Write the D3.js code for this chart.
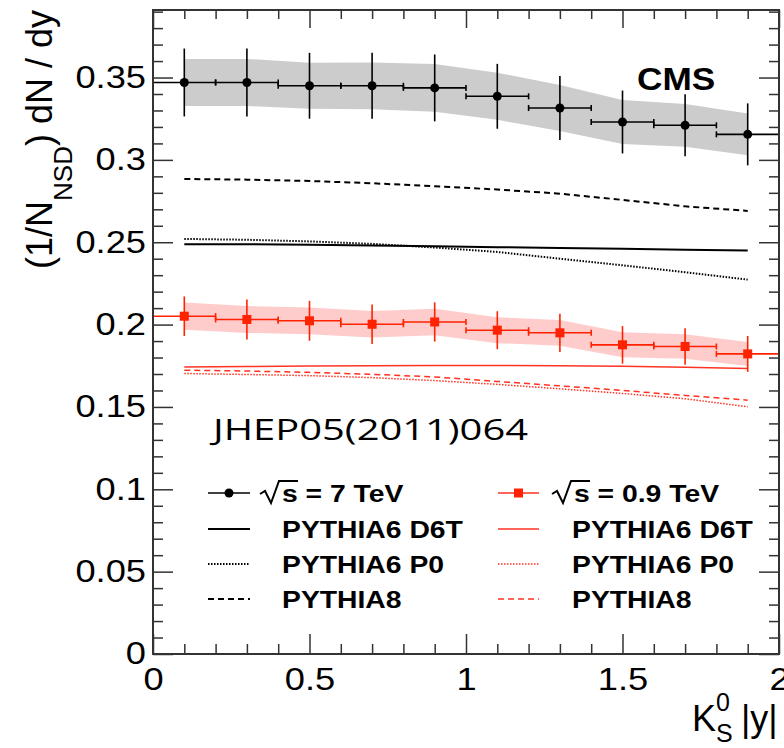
<!DOCTYPE html>
<html>
<head>
<meta charset="utf-8">
<script src="https://cdn.jsdelivr.net/npm/d3@7"></script>
<style>
  body { margin: 0; background: #fff; }
  svg text { font-family: "Liberation Sans", Arial, Helvetica, sans-serif; fill: #000; }
</style>
</head>
<body>
<div id="chart"></div>
<script>
// bins in |y| (centre and half width)
const binCenters = [0.1, 0.3, 0.5, 0.7, 0.9, 1.1, 1.3, 1.5, 1.7, 1.9];
const binHalf    = [0.1, 0.1, 0.1, 0.1, 0.1, 0.1, 0.1, 0.1, 0.1, 0.1];

// data sqrt(s) = 7 TeV
const data7    = [0.347, 0.347, 0.345, 0.345, 0.3437, 0.3386, 0.3315, 0.323, 0.321, 0.3155];
const err7     = [0.0206, 0.0206, 0.020, 0.020, 0.0203, 0.0197, 0.0194, 0.0191, 0.0188, 0.0188];
const sys7     = [0.0143, 0.0143, 0.014, 0.0142, 0.0145, 0.0143, 0.014, 0.0133, 0.013, 0.0127];
// data sqrt(s) = 0.9 TeV
const data09   = [0.2051, 0.2031, 0.2023, 0.2002, 0.2016, 0.1966, 0.195, 0.1877, 0.1867, 0.1822];
const err09    = [0.012, 0.0121, 0.0121, 0.012, 0.0119, 0.0115, 0.0116, 0.0114, 0.0111, 0.0109];
const sys09    = [0.0083, 0.0082, 0.0081, 0.0081, 0.008, 0.0079, 0.0078, 0.0076, 0.0075, 0.0073];

// MC predictions
const d6t7  = [0.2488, 0.2488, 0.2485, 0.248, 0.2475, 0.247, 0.2465, 0.246, 0.2455, 0.245];
const p0_7  = [0.252, 0.2515, 0.2505, 0.249, 0.2468, 0.2441, 0.240, 0.236, 0.2318, 0.2273];
const py8_7 = [0.2884, 0.288, 0.2872, 0.2858, 0.284, 0.282, 0.2795, 0.2757, 0.2718, 0.269];
const d6t09 = [0.1743, 0.1745, 0.1748, 0.175, 0.1752, 0.1752, 0.175, 0.1747, 0.1741, 0.1734];
const p0_09 = [0.1703, 0.1697, 0.169, 0.1678, 0.166, 0.1637, 0.161, 0.1582, 0.155, 0.1501];
const py8_09 = [0.1723, 0.1718, 0.171, 0.1698, 0.1682, 0.1655, 0.1628, 0.160, 0.157, 0.1541];

// axis ticks
const xMajor = [0, 0.5, 1, 1.5, 2];
const xTickLabels = ["0", "0.5", "1", "1.5", "2"];
const xMinor = [0.1, 0.2, 0.3, 0.4, 0.6, 0.7, 0.8, 0.9, 1.1, 1.2, 1.3, 1.4, 1.6, 1.7, 1.8, 1.9];
const yMajor = [0, 0.05, 0.1, 0.15, 0.2, 0.25, 0.3, 0.35];
const yTickLabels = ["0", "0.05", "0.1", "0.15", "0.2", "0.25", "0.3", "0.35"];
const yMinor = d3.range(0, 40).map(i => i / 100).filter(v => Math.round(v * 100) % 5 !== 0);

const legend7  = ["= 7 TeV", "PYTHIA6 D6T", "PYTHIA6 P0", "PYTHIA8"];
const legend09 = ["= 0.9 TeV", "PYTHIA6 D6T", "PYTHIA6 P0", "PYTHIA8"];

const RED = "#ff2200";
const RED_LINE = "#ff3322";

const svg = d3.select("#chart").append("svg")
  .attr("width", 784)
  .attr("height", 748);

const x = d3.scaleLinear().domain([0, 2]).range([153, 779]);
const y = d3.scaleLinear().domain([0, 0.391]).range([654, 10]);

// systematic bands
const band = d3.area()
  .x((d, i) => x(binCenters[i]))
  .y0(d => y(d.v - d.s))
  .y1(d => y(d.v + d.s));

svg.append("path")
  .datum(data7.map((v, i) => ({ v, s: sys7[i] })))
  .attr("d", band)
  .attr("fill", "#cccccc");

svg.append("path")
  .datum(data09.map((v, i) => ({ v, s: sys09[i] })))
  .attr("d", band)
  .attr("fill", "#ffcccc");

// MC curves
const mcLine = d3.line().x((d, i) => x(binCenters[i])).y(d => y(d));
const curves = [
  { vals: d6t7,  color: "#000", width: 2,   dash: null },
  { vals: p0_7,  color: "#000", width: 2,   dash: "1.5,1.5" },
  { vals: py8_7, color: "#000", width: 2,   dash: "6,4" },
  { vals: d6t09, color: RED_LINE, width: 1.5, dash: null },
  { vals: p0_09, color: RED_LINE, width: 1.5, dash: "1.5,1.5" },
  { vals: py8_09, color: RED_LINE, width: 1.5, dash: "6,4" }
];
curves.forEach(c => {
  svg.append("path")
    .datum(c.vals)
    .attr("d", mcLine)
    .attr("fill", "none")
    .attr("stroke", c.color)
    .attr("stroke-width", c.width)
    .attr("stroke-dasharray", c.dash);
});

// data points with error bars
function drawPoints(vals, errs, color, shape) {
  const g = svg.append("g").attr("stroke", color).attr("stroke-width", 1.6);
  vals.forEach((v, i) => {
    const cx = x(binCenters[i]), cy = y(v);
    const xl = x(binCenters[i] - binHalf[i]), xr = x(binCenters[i] + binHalf[i]);
    g.append("line").attr("x1", xl).attr("x2", xr).attr("y1", cy).attr("y2", cy);
    g.append("line").attr("x1", xl).attr("x2", xl).attr("y1", cy - 3).attr("y2", cy + 3);
    g.append("line").attr("x1", xr).attr("x2", xr).attr("y1", cy - 3).attr("y2", cy + 3);
    g.append("line").attr("x1", cx).attr("x2", cx).attr("y1", y(v + errs[i])).attr("y2", y(v - errs[i]));
  });
  g.selectAll(".pt").data(vals).enter()
    .append(shape === "circle" ? "circle" : "rect")
    .attr("class", "pt")
    .each(function (d, i) {
      const el = d3.select(this);
      if (shape === "circle") {
        el.attr("cx", x(binCenters[i])).attr("cy", y(d)).attr("r", 4.5);
      } else {
        el.attr("x", x(binCenters[i]) - 4.5).attr("y", y(d) - 4.5).attr("width", 9).attr("height", 9);
      }
    })
    .attr("fill", color)
    .attr("stroke", "none");
}
drawPoints(data7, err7, "#000", "circle");
drawPoints(data09, err09, RED, "square");

// frame and ticks
const axisCol = "#333";
function styleAxis(sel) {
  sel.select(".domain").remove();
  sel.selectAll("line").attr("stroke", axisCol).attr("stroke-width", 1.5);
  sel.selectAll("text")
    .style("font-size", "31px")
    .style("font-family", "'Liberation Sans', Arial, sans-serif")
    .attr("fill", "#000");
}

svg.append("g").attr("transform", "translate(153,0)")
  .call(d3.axisLeft(y).tickValues(yMajor).tickSize(-20).tickPadding(6)
    .tickFormat((d, i) => yTickLabels[i]))
  .call(styleAxis)
  .selectAll("text").attr("transform", "scale(1.17,1)");
svg.append("g").attr("transform", "translate(153,0)")
  .call(d3.axisLeft(y).tickValues(yMinor).tickSize(-10).tickFormat(""))
  .call(styleAxis);
svg.append("g").attr("transform", "translate(779,0)")
  .call(d3.axisRight(y).tickValues(yMajor).tickSize(-20).tickFormat(""))
  .call(styleAxis);
svg.append("g").attr("transform", "translate(779,0)")
  .call(d3.axisRight(y).tickValues(yMinor).tickSize(-10).tickFormat(""))
  .call(styleAxis);

svg.append("g").attr("transform", "translate(0,654)")
  .call(d3.axisBottom(x).tickValues(xMajor).tickSize(-20).tickPadding(14)
    .tickFormat((d, i) => xTickLabels[i]))
  .call(styleAxis)
  .selectAll("text").attr("transform", "scale(1.17,1)");
svg.append("g").attr("transform", "translate(0,654)")
  .call(d3.axisBottom(x).tickValues(xMinor).tickSize(-10).tickFormat(""))
  .call(styleAxis);
svg.append("g").attr("transform", "translate(0,10)")
  .call(d3.axisTop(x).tickValues(xMajor).tickSize(-18).tickFormat(""))
  .call(styleAxis);
svg.append("g").attr("transform", "translate(0,10)")
  .call(d3.axisTop(x).tickValues(xMinor).tickSize(-9).tickFormat(""))
  .call(styleAxis);

svg.append("rect")
  .attr("x", x(0)).attr("y", y(0.391))
  .attr("width", x(2) - x(0)).attr("height", y(0) - y(0.391))
  .attr("fill", "none").attr("stroke", axisCol).attr("stroke-width", 2);

// axis titles
const yTitle = svg.append("text")
  .attr("transform", "translate(52,10) rotate(-90)")
  .attr("text-anchor", "end")
  .style("font-size", "36px");
yTitle.append("tspan").text("(1/N");
yTitle.append("tspan").attr("dy", 20).style("font-size", "26px").text("NSD");
yTitle.append("tspan").attr("dy", -20).text(") dN / dy");

svg.append("text").attr("x", 692).attr("y", 731).style("font-size", "36px").text("K");
svg.append("text").attr("x", 716).attr("y", 711).style("font-size", "25px").text("0");
svg.append("text").attr("x", 716).attr("y", 742).style("font-size", "25px").text("S");
svg.append("text").attr("x", 741).attr("y", 731).style("font-size", "36px").text("|y|");

// labels
svg.append("text")
  .attr("transform", "translate(637,90) scale(1.1,1)")
  .style("font-size", "32px").style("font-weight", "bold")
  .text("CMS");

svg.append("text")
  .attr("x", 213).attr("y", 440)
  .attr("textLength", 315).attr("lengthAdjust", "spacingAndGlyphs")
  .style("font-family", "'Comic Sans MS', 'Open Sans', sans-serif")
  .style("font-size", "30px")
  .text("JHEP05(2011)064");

// legend
const rowY = [493, 529, 564, 599];
const legendCols = [
  { labels: legend7, color: "#000", lineX: [208, 250], textX: 282, sqrtX: 260, marker: "circle",
    dashes: [null, null, "1.5,1.5", "6,4"], width: 2 },
  { labels: legend09, color: RED_LINE, lineX: [498, 539], textX: 572, sqrtX: 552, marker: "square",
    dashes: [null, null, "1.5,1.5", "6,4"], width: 1.5 }
];
legendCols.forEach(col => {
  col.labels.forEach((lab, i) => {
    const ly = rowY[i];
    svg.append("line")
      .attr("x1", col.lineX[0]).attr("x2", col.lineX[1])
      .attr("y1", ly).attr("y2", ly)
      .attr("stroke", col.color)
      .attr("stroke-width", i === 0 ? 1.6 : col.width)
      .attr("stroke-dasharray", col.dashes[i]);
    if (i === 0) {
      const mx = (col.lineX[0] + col.lineX[1]) / 2;
      if (col.marker === "circle") {
        svg.append("circle").attr("cx", mx).attr("cy", ly).attr("r", 4.5).attr("fill", "#000");
      } else {
        svg.append("rect").attr("x", mx - 4.5).attr("y", ly - 4.5).attr("width", 9).attr("height", 9).attr("fill", RED);
      }
      const sx = col.sqrtX;
      svg.append("path")
        .attr("d", `M${sx},${ly + 1} L${sx + 5},${ly - 2} L${sx + 11},${ly + 10} L${sx + 19},${ly - 12} L${sx + 38},${ly - 12}`)
        .attr("fill", "none").attr("stroke", "#000").attr("stroke-width", 2);
      const t = svg.append("text")
        .attr("transform", `translate(${sx + 22},${ly + 9}) scale(1.18,1)`)
        .style("font-size", "24px").style("font-weight", "bold");
      t.append("tspan").text("s ");
      t.append("tspan").text(lab);
    } else {
      svg.append("text")
        .attr("transform", `translate(${col.textX},${ly + 9}) scale(1.18,1)`)
        .style("font-size", "24px").style("font-weight", "bold")
        .text(lab);
    }
  });
});
</script>
</body>
</html>
